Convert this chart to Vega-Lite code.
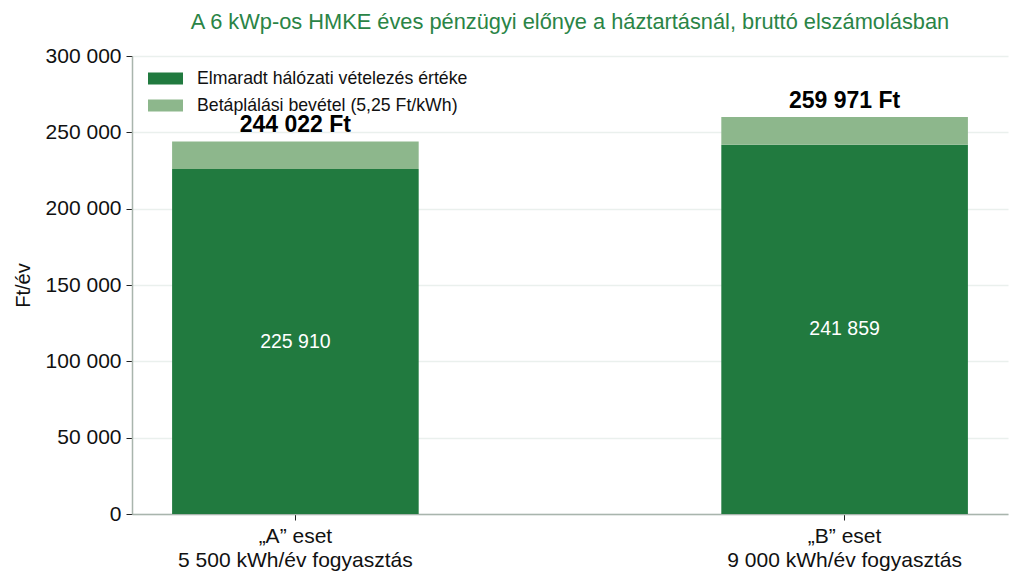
{
  "$schema": "https://vega.github.io/schema/vega-lite/v6.json",
  "autosize": "none",
  "width": 876,
  "height": 458,
  "padding": {"left": 132, "top": 56, "right": 16, "bottom": 71},
  "background": "white",
  "title": {
    "text": "A 6 kWp-os HMKE éves pénzügyi előnye a háztartásnál, bruttó elszámolásban",
    "anchor": "middle",
    "frame": "group",
    "font": "Liberation Sans",
    "fontSize": 21.8,
    "fontWeight": "normal",
    "color": "#2a8446",
    "offset": 11
  },
  "config": {
    "locale": {
      "number": {
        "decimal": ",",
        "thousands": " ",
        "grouping": [3],
        "currency": ["", " Ft"]
      }
    },
    "font": "Liberation Sans",
    "view": {"stroke": null}
  },
  "data": {
    "values": [
      {"eset": "„A” eset|5 500 kWh/év fogyasztás", "tetel": "Elmaradt hálózati vételezés értéke", "ertek": 225910},
      {"eset": "„A” eset|5 500 kWh/év fogyasztás", "tetel": "Betáplálási bevétel (5,25 Ft/kWh)", "ertek": 18112},
      {"eset": "„B” eset|9 000 kWh/év fogyasztás", "tetel": "Elmaradt hálózati vételezés értéke", "ertek": 241859},
      {"eset": "„B” eset|9 000 kWh/év fogyasztás", "tetel": "Betáplálási bevétel (5,25 Ft/kWh)", "ertek": 18112}
    ]
  },
  "encoding": {
    "x": {
      "field": "eset",
      "type": "nominal",
      "sort": null,
      "title": null,
      "scale": {"paddingInner": 0.551, "paddingOuter": 0.073},
      "axis": {
        "labelAngle": 0,
        "labelExpr": "split(datum.label, '|')",
        "labelFontSize": 21,
        "labelColor": "#111",
        "labelLimit": 0,
        "labelLineHeight": 24,
        "labelPadding": 5,
        "tickColor": "#222",
        "tickSize": 6,
        "domainColor": "#a9b5ad",
        "domainWidth": 1.5,
        "grid": false
      }
    }
  },
  "layer": [
    {
      "mark": {"type": "bar"},
      "encoding": {
        "y": {
          "field": "ertek",
          "type": "quantitative",
          "stack": "zero",
          "title": "Ft/év",
          "scale": {"domain": [0, 300000]},
          "axis": {
            "values": [0, 50000, 100000, 150000, 200000, 250000, 300000],
            "format": ",.0f",
            "labelFontSize": 21,
            "labelColor": "#111",
            "labelPadding": 5,
            "tickColor": "#222",
            "tickSize": 6,
            "domainColor": "#a9b5ad",
            "domainWidth": 1.5,
            "gridColor": "#eaf0ed",
            "gridWidth": 1.5,
            "titleFontSize": 20,
            "titleFontWeight": "normal",
            "titleColor": "#111",
            "titlePadding": 12
          }
        },
        "color": {
          "field": "tetel",
          "type": "nominal",
          "scale": {
            "domain": ["Elmaradt hálózati vételezés értéke", "Betáplálási bevétel (5,25 Ft/kWh)"],
            "range": ["#217a3f", "#8db78c"]
          },
          "legend": {
            "title": null,
            "orient": "none",
            "legendX": 16,
            "legendY": 5,
            "symbolType": "M-1,-0.343H1V0.343H-1Z",
            "symbolSize": 1225,
            "symbolStrokeWidth": 0,
            "symbolOpacity": 1,
            "labelFontSize": 17.7,
            "labelColor": "#111",
            "labelLimit": 0,
            "labelOffset": 14,
            "rowPadding": -10
          }
        },
        "order": {"field": "tetel", "sort": "descending"}
      }
    },
    {
      "transform": [{"filter": "datum.tetel == 'Elmaradt hálózati vételezés értéke'"}],
      "mark": {"type": "text", "color": "white", "fontSize": 19.5, "baseline": "middle"},
      "encoding": {
        "y": {"field": "ertek", "type": "quantitative", "stack": "zero", "bandPosition": 0.5},
        "text": {"field": "ertek", "type": "quantitative", "format": ",.0f"}
      }
    },
    {
      "transform": [{"aggregate": [{"op": "sum", "field": "ertek", "as": "osszesen"}], "groupby": ["eset"]}],
      "mark": {"type": "text", "fontSize": 23, "fontWeight": "bold", "color": "#000", "baseline": "bottom", "dy": -4},
      "encoding": {
        "y": {"field": "osszesen", "type": "quantitative"},
        "text": {"field": "osszesen", "type": "quantitative", "format": "$,.0f"}
      }
    }
  ]
}
